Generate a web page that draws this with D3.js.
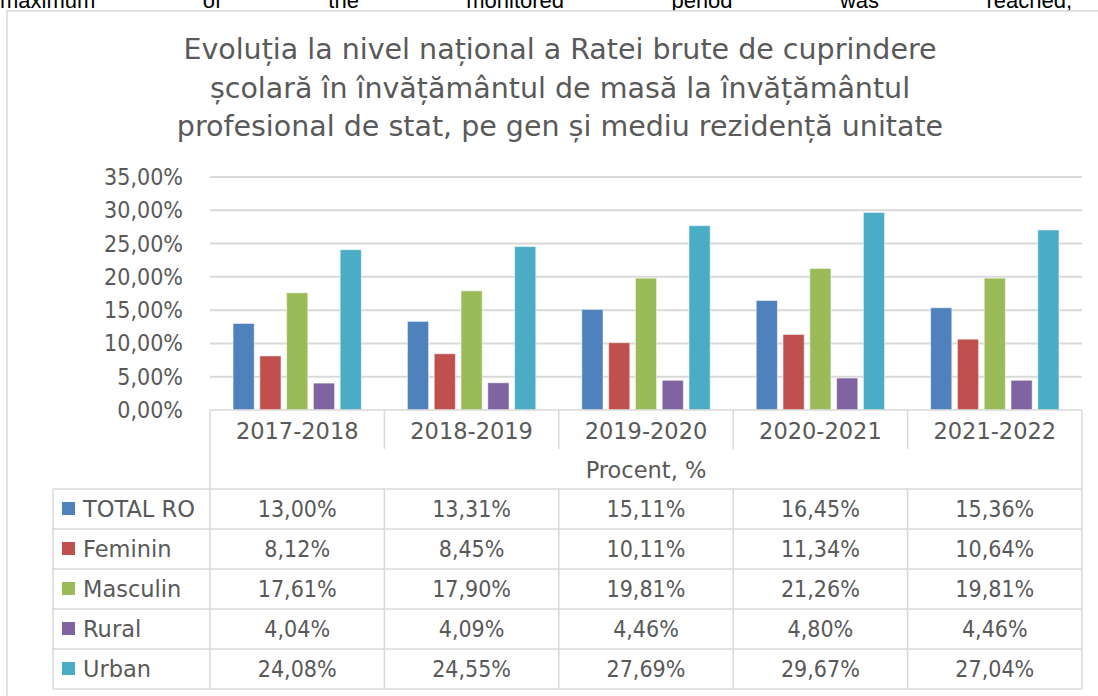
<!DOCTYPE html>
<html>
<head>
<meta charset="utf-8">
<script src="https://cdn.jsdelivr.net/npm/d3@7"></script>
<style>
  body { margin: 0; background: #fff; }
  svg text { font-family: "DejaVu Sans", sans-serif; }
  svg text.num { font-family: "DejaVu Sans Condensed", "DejaVu Sans", sans-serif; font-stretch: condensed; }
</style>
</head>
<body>
<div id="chart"></div>
<script>
// values (percent)
var categories = ["2017-2018", "2018-2019", "2019-2020", "2020-2021", "2021-2022"];
var seriesNames = ["TOTAL RO", "Feminin", "Masculin", "Rural", "Urban"];
var totalRo = [13.00, 13.31, 15.11, 16.45, 15.36];
var feminin = [8.12, 8.45, 10.11, 11.34, 10.64];
var masculin = [17.61, 17.90, 19.81, 21.26, 19.81];
var rural = [4.04, 4.09, 4.46, 4.80, 4.46];
var urban = [24.08, 24.55, 27.69, 29.67, 27.04];
var yTicks = [0, 5, 10, 15, 20, 25, 30, 35];
var titleLines = [
    "Evoluția la nivel național a Ratei brute de cuprindere",
    "școlară în învățământul de masă la învățământul",
    "profesional de stat, pe gen și mediu rezidență unitate"
];
var topWords = ["maximum", "of", "the", "monitored", "period", "was", "reached,"];

var colors = ["#4F81BD", "#C0504D", "#9BBB59", "#8064A2", "#4BACC6"];
var seriesValues = [totalRo, feminin, masculin, rural, urban];

var width = 1098, height = 696;
var plotLeft = 210, plotRight = 1082, plotTop = 177, plotBottom = 410;
var gridColor = "#d9d9d9", textColor = "#595959";

var ro = d3.formatLocale({decimal: ",", thousands: ".", grouping: [3], currency: ["", " lei"]});
var fmt = function (v) { return ro.format(".2f")(v) + "%"; };

var svg = d3.select("#chart")
    .append("svg")
    .attr("width", width)
    .attr("height", height);

// cut-off line of justified body text above the chart
var topLine = svg.append("g");
var words = topLine.selectAll("text")
    .data(topWords)
    .enter().append("text")
    .attr("y", 8)
    .style("font-family", "'Liberation Sans', sans-serif")
    .attr("font-size", 22)
    .attr("fill", "#000")
    .text(function (d) { return d; });
var wl = [];
words.each(function () { wl.push(this.getComputedTextLength()); });
var gap = (1072 - d3.sum(wl)) / (topWords.length - 1);
var cx = 0;
words.attr("x", function (d, i) { var v = cx; cx += wl[i] + gap; return v; });

// chart frame
svg.append("rect")
    .attr("x", 7).attr("y", 11)
    .attr("width", 1110).attr("height", 720)
    .attr("fill", "#fff")
    .attr("stroke", gridColor)
    .attr("stroke-width", 1.5);

// title
svg.append("g").selectAll("text")
    .data(titleLines)
    .enter().append("text")
    .attr("x", 560)
    .attr("y", function (d, i) { return 59 + i * 38.5; })
    .attr("text-anchor", "middle")
    .attr("font-size", 28.5)
    .attr("fill", textColor)
    .text(function (d) { return d; });

var x0 = d3.scaleBand().domain(categories).range([plotLeft, plotRight]);
var x1 = d3.scaleBand().domain(seriesNames).range([0, x0.bandwidth()])
    .paddingInner(0.21).paddingOuter(0.86);
var y = d3.scaleLinear().domain([0, 35]).range([plotBottom, plotTop]);

// gridlines
svg.append("g").selectAll("line")
    .data(yTicks.slice(1))
    .enter().append("line")
    .attr("x1", plotLeft).attr("x2", plotRight)
    .attr("y1", function (d) { return y(d); })
    .attr("y2", function (d) { return y(d); })
    .attr("stroke", gridColor)
    .attr("stroke-width", 2);

// y axis labels
svg.append("g").selectAll("text")
    .data(yTicks)
    .enter().append("text")
    .attr("class", "num")
    .attr("x", 183)
    .attr("y", function (d) { return y(d) + 8; })
    .attr("text-anchor", "end")
    .attr("font-size", 23)
    .attr("fill", textColor)
    .text(function (d) { return fmt(d); });

// bars
var groups = svg.append("g").selectAll("g")
    .data(categories)
    .enter().append("g")
    .attr("transform", function (d) { return "translate(" + x0(d) + ",0)"; });

groups.selectAll("rect")
    .data(function (d, ci) {
        return seriesNames.map(function (s, si) { return {s: s, v: seriesValues[si][ci], c: colors[si]}; });
    })
    .enter().append("rect")
    .attr("x", function (d) { return x1(d.s); })
    .attr("y", function (d) { return y(d.v); })
    .attr("width", x1.bandwidth())
    .attr("height", function (d) { return y(0) - y(d.v); })
    .attr("fill", function (d) { return d.c; })
    .attr("stroke", "#fff")
    .attr("stroke-opacity", 0.5)
    .attr("stroke-width", 1);

// data table
var rowY = d3.scaleBand().domain(seriesNames).range([489, 689]);
var tableLeft = 53;
var lines = svg.append("g")
    .attr("stroke", gridColor)
    .attr("stroke-width", 1.5)
    .attr("fill", "none");

// axis line / top of category row
lines.append("line").attr("x1", plotLeft).attr("x2", plotRight).attr("y1", plotBottom).attr("y2", plotBottom);
// separators in category row
categories.slice(1).forEach(function (c) {
    lines.append("line").attr("x1", x0(c)).attr("x2", x0(c)).attr("y1", plotBottom).attr("y2", 449);
});
// outer verticals of the plot part
lines.append("line").attr("x1", plotLeft).attr("x2", plotLeft).attr("y1", plotBottom).attr("y2", 689);
lines.append("line").attr("x1", plotRight).attr("x2", plotRight).attr("y1", plotBottom).attr("y2", 689);
// horizontal row lines
seriesNames.forEach(function (s) {
    lines.append("line").attr("x1", tableLeft).attr("x2", plotRight).attr("y1", rowY(s)).attr("y2", rowY(s));
});
lines.append("line").attr("x1", tableLeft).attr("x2", plotRight).attr("y1", 689).attr("y2", 689);
lines.append("line").attr("x1", tableLeft).attr("x2", tableLeft).attr("y1", 489).attr("y2", 689);
// verticals in value rows
categories.slice(1).forEach(function (c) {
    lines.append("line").attr("x1", x0(c)).attr("x2", x0(c)).attr("y1", 489).attr("y2", 689);
});

// category labels
svg.append("g").selectAll("text")
    .data(categories)
    .enter().append("text")
    .attr("x", function (d) { return x0(d) + x0.bandwidth() / 2; })
    .attr("y", 439)
    .attr("text-anchor", "middle")
    .attr("font-size", 22.5)
    .attr("fill", textColor)
    .text(function (d) { return d; });

svg.append("text")
    .attr("x", (plotLeft + plotRight) / 2)
    .attr("y", 478)
    .attr("text-anchor", "middle")
    .attr("font-size", 22.5)
    .attr("fill", textColor)
    .text("Procent, %");

// legend keys and labels
var legend = svg.append("g").selectAll("g")
    .data(seriesNames)
    .enter().append("g")
    .attr("transform", function (d) { return "translate(0," + (rowY(d) + rowY.bandwidth() / 2) + ")"; });
legend.append("rect")
    .attr("x", 62).attr("y", -7)
    .attr("width", 13).attr("height", 13)
    .attr("fill", function (d, i) { return colors[i]; });
legend.append("text")
    .attr("x", 83).attr("y", 8)
    .attr("font-size", 22.5)
    .attr("fill", textColor)
    .text(function (d) { return d; });

// values
seriesNames.forEach(function (s, si) {
    svg.append("g").selectAll("text")
        .data(seriesValues[si])
        .enter().append("text")
        .attr("class", "num")
        .attr("x", function (d, i) { return x0(categories[i]) + x0.bandwidth() / 2; })
        .attr("y", rowY(s) + rowY.bandwidth() / 2 + 8)
        .attr("text-anchor", "middle")
        .attr("font-size", 23)
        .attr("fill", textColor)
        .text(function (d) { return fmt(d); });
});
</script>
</body>
</html>
